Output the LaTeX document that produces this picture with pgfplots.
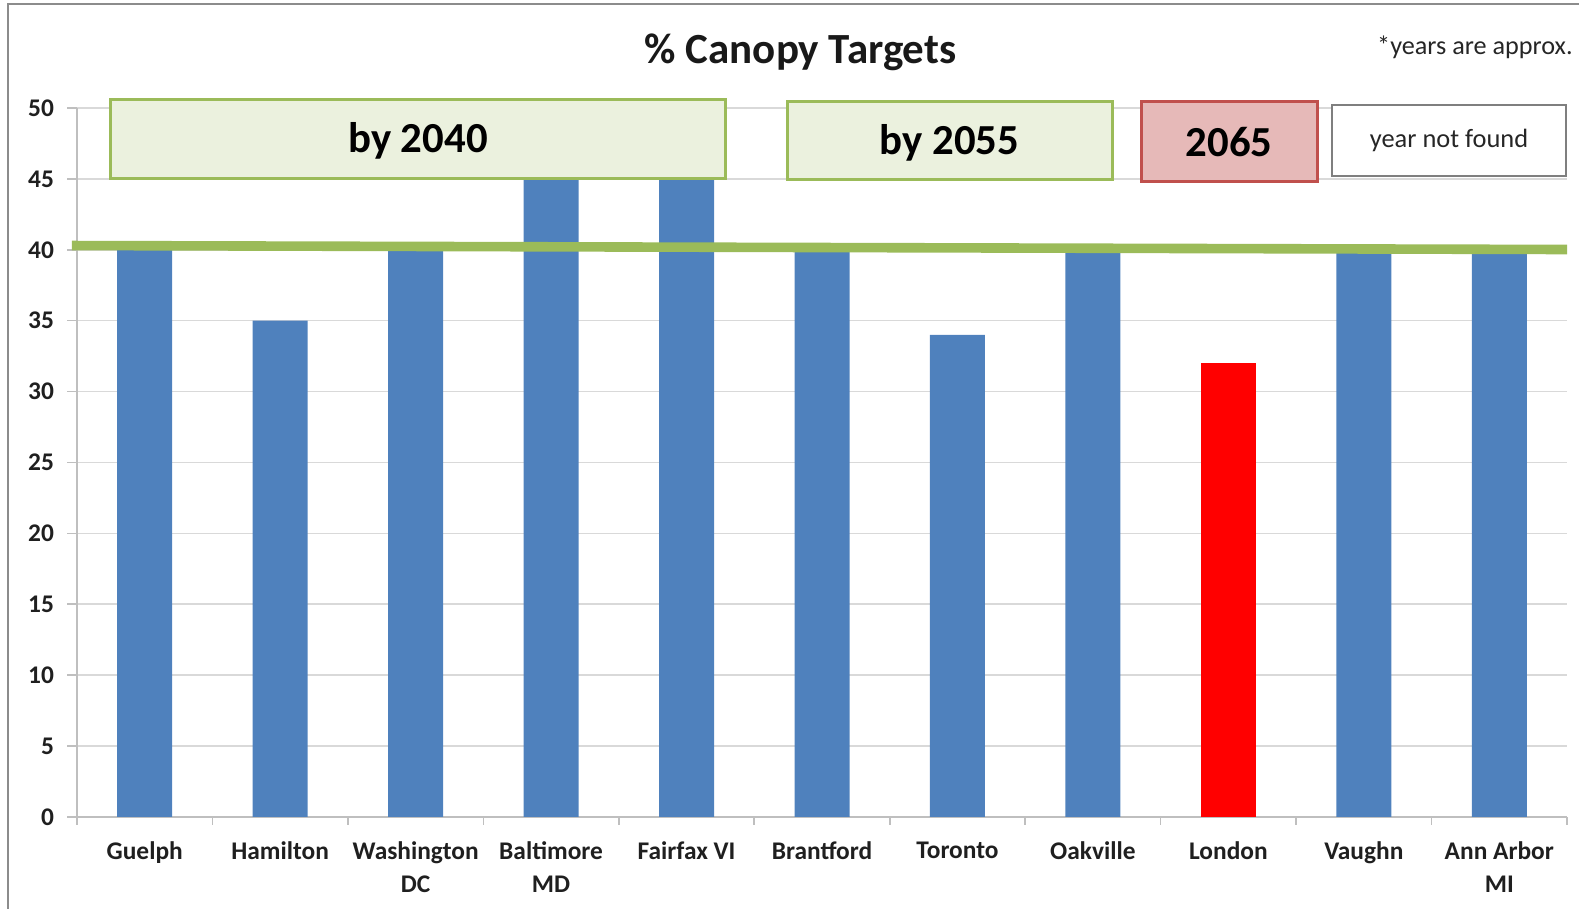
\documentclass[border=0pt]{standalone}
\usepackage{pgfplots}
\pgfplotsset{compat=1.18}
\usepackage{fontspec}
\setmainfont{Carlito}
\definecolor{barblue}{HTML}{4F81BD}
\definecolor{barred}{HTML}{FF0000}
\definecolor{greenline}{HTML}{9BBB59}
\definecolor{greenfill}{HTML}{EBF1DE}
\definecolor{redfill}{HTML}{E6B9B8}
\definecolor{redborder}{HTML}{C0504D}
\definecolor{gridgray}{HTML}{D9D9D9}
\definecolor{axisgray}{HTML}{BFBFBF}
\definecolor{framegray}{HTML}{8C8C8C}
\definecolor{boxgray}{HTML}{7F7F7F}
\begin{document}
\begin{tikzpicture}
\path[use as bounding box] (-38.5pt,-46pt) rectangle (751pt,408.5pt);
\draw[color=framegray, line width=1pt] (-34.5pt,-60pt) -- (-34.5pt,406.5pt) -- (770pt,406.5pt);
\begin{axis}[
  at={(0pt,0pt)}, anchor=south west,
  scale only axis, width=745pt, height=354.5pt,
  xmin=-0.5, xmax=10.5, ymin=0, ymax=50,
  ytick={0,5,...,50},
  xtick={0,...,10},
  xticklabels={Guelph, Hamilton, Washington\\DC, Baltimore\\MD, Fairfax VI, Brantford, Toronto, Oakville, London, Vaughn, Ann Arbor\\MI},
  minor xtick={-0.5,0.5,...,10.5},
  major x tick style={draw=none},
  minor x tick style={draw=axisgray, line width=0.8pt},
  y tick style={draw=axisgray, line width=0.8pt},
  axis x line*=bottom, axis y line*=left,
  axis line style={draw=axisgray, line width=1pt, -},
  ymajorgrids, grid style={draw=gridgray, line width=0.8pt},
  tick align=outside,
  major tick length=5pt, minor tick length=4pt,
  clip=false,
  /pgf/number format/assume math mode=true,
  ticklabel style={font=\fontsize{12.7}{16.2}\selectfont\bfseries, text=black!88},
  xticklabel style={align=center, yshift=-4pt},
  yticklabel style={xshift=-3pt},
]
\addplot[ybar, bar width=0.406, bar shift=0pt, fill=barblue, draw=none]
  coordinates {(0,40) (1,35) (2,40) (3,45) (4,45) (5,40) (6,34) (7,40) (9,40) (10,40)};
\addplot[ybar, bar width=0.406, bar shift=0pt, fill=barred, draw=none]
  coordinates {(8,32)};
\addplot[greenline, line width=4.8pt] coordinates {(-0.537,40.30) (10.5,40.02)};

\draw[greenline, fill=greenfill, line width=1.5pt] (axis cs:-0.249,45.06) rectangle (axis cs:4.284,50.63)
  node[midway, yshift=-1.2pt, text=black, font=\fontsize{21.4}{24}\selectfont\bfseries] {by 2040};
\draw[greenline, fill=greenfill, line width=1.5pt] (axis cs:4.742,44.99) rectangle (axis cs:7.141,50.49)
  node[midway, yshift=-1.2pt, text=black, font=\fontsize{21.4}{24}\selectfont\bfseries] {by 2055};
\draw[redborder, fill=redfill, line width=1.5pt] (axis cs:7.355,44.85) rectangle (axis cs:8.655,50.49)
  node[midway, yshift=-0.5pt, text=black, font=\fontsize{21.4}{24}\selectfont\bfseries] {2065};
\fill[black!25] (axis cs:8.775,45.12) rectangle (axis cs:10.503,50.13);
\draw[boxgray, fill=white, line width=0.8pt] (axis cs:8.765,45.2) rectangle (axis cs:10.493,50.21)
  node[midway, text=black!85, font=\fontsize{13.2}{15}\selectfont] {year not found};
\end{axis}
\node[anchor=base, font=\fontsize{21.5}{24}\selectfont\bfseries, text=black!90] at (361.75pt,376.5pt) {\% Canopy Targets};
\node[anchor=base east, inner sep=0pt, font=\fontsize{13.1}{15}\selectfont, text=black!85] at (748pt,381pt) {*years are approx.};
\end{tikzpicture}
\end{document}
